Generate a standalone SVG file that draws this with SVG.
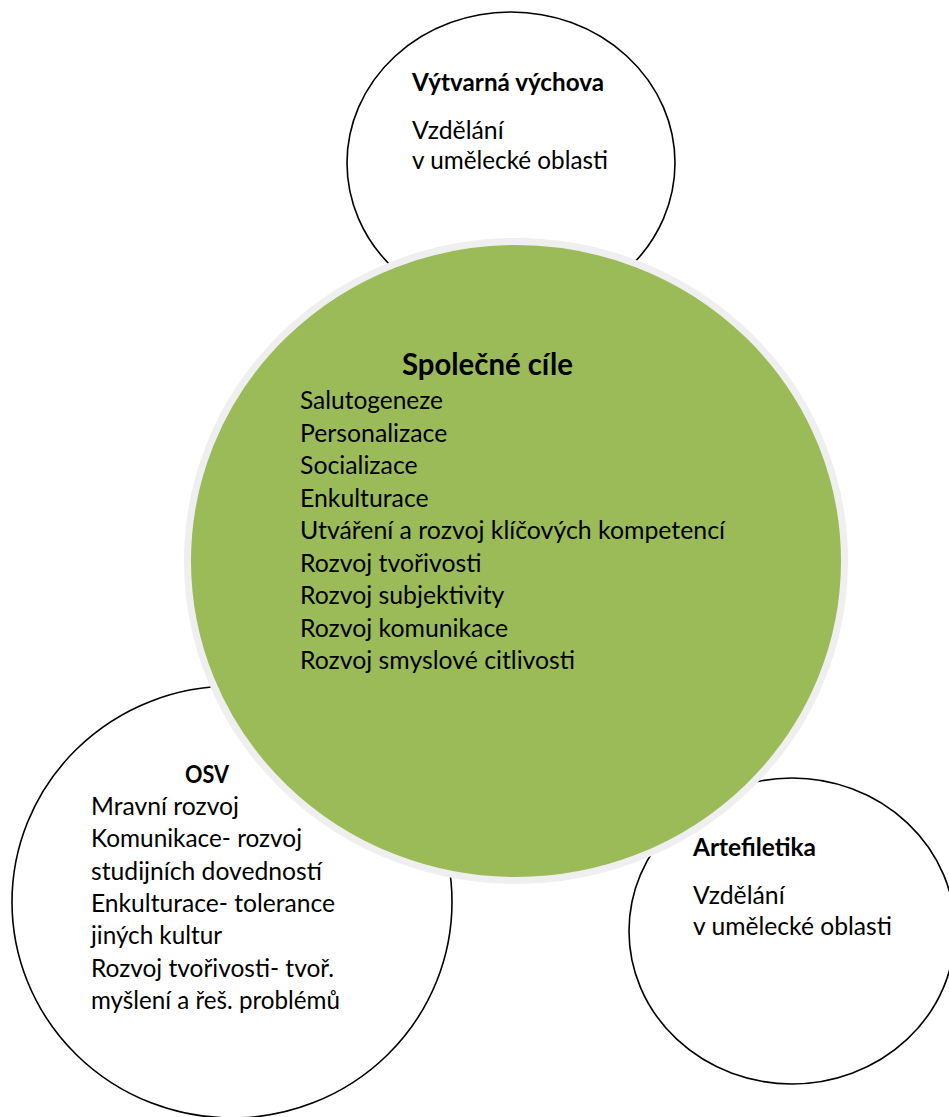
<svg xmlns="http://www.w3.org/2000/svg" width="949" height="1117" viewBox="0 0 949 1117">
<style>
.ring{fill:#FFFFFF;stroke:#000000;stroke-width:1.6}
.core{fill:#9BBB59;stroke:#EFEFEF;stroke-width:7}
text{font-family:Lato,"Open Sans","Liberation Sans",sans-serif;fill:#000000}
.b{font-size:24.8px}
.h{font-size:24px;font-weight:bold}
.t{font-size:29.5px;font-weight:bold}
</style>
<rect width="949" height="1117" fill="#FFFFFF"/>
<g id="connectors"></g>
<g id="node-vv">
<ellipse class="ring" cx="511" cy="163" rx="164" ry="151"/>
<text class="h" x="412" y="91" textLength="192" lengthAdjust="spacingAndGlyphs">Výtvarná výchova</text>
<text class="b" x="412" y="139">Vzdělání</text>
<text class="b" x="412" y="169" textLength="196" lengthAdjust="spacingAndGlyphs">v umělecké oblasti</text>
</g>
<g id="node-osv">
<ellipse class="ring" cx="232" cy="902" rx="220" ry="216"/>
<text class="h" x="185" y="783" textLength="44" lengthAdjust="spacingAndGlyphs">OSV</text>
<text class="b" x="91" y="815" textLength="148" lengthAdjust="spacingAndGlyphs">Mravní rozvoj</text>
<text class="b" x="91" y="847.3" textLength="211" lengthAdjust="spacingAndGlyphs">Komunikace- rozvoj</text>
<text class="b" x="91" y="879.6" textLength="231" lengthAdjust="spacingAndGlyphs">studijních dovedností</text>
<text class="b" x="91" y="911.9" textLength="244" lengthAdjust="spacingAndGlyphs">Enkulturace- tolerance</text>
<text class="b" x="91" y="944.2" textLength="131" lengthAdjust="spacingAndGlyphs">jiných kultur</text>
<text class="b" x="91" y="976.5" textLength="243" lengthAdjust="spacingAndGlyphs">Rozvoj tvořivosti- tvoř.</text>
<text class="b" x="91" y="1008.8" textLength="249" lengthAdjust="spacingAndGlyphs">myšlení a řeš. problémů</text>
</g>
<g id="node-art">
<ellipse class="ring" cx="792" cy="931" rx="163" ry="153"/>
<text class="h" x="693" y="856" textLength="123" lengthAdjust="spacingAndGlyphs">Artefiletika</text>
<text class="b" x="693" y="904">Vzdělání</text>
<text class="b" x="693" y="935" textLength="199" lengthAdjust="spacingAndGlyphs">v umělecké oblasti</text>
</g>
<g id="node-core">
<ellipse class="core" cx="516" cy="561" rx="328.5" ry="319.5"/>
<text class="t" x="402" y="375" textLength="171" lengthAdjust="spacingAndGlyphs">Společné cíle</text>
<text class="b" x="300" y="409" textLength="143" lengthAdjust="spacingAndGlyphs">Salutogeneze</text>
<text class="b" x="300" y="441.5">Personalizace</text>
<text class="b" x="300" y="474">Socializace</text>
<text class="b" x="300" y="506.5">Enkulturace</text>
<text class="b" x="300" y="539" textLength="425" lengthAdjust="spacingAndGlyphs">Utváření a rozvoj klíčových kompetencí</text>
<text class="b" x="300" y="571.5">Rozvoj tvořivosti</text>
<text class="b" x="300" y="604">Rozvoj subjektivity</text>
<text class="b" x="300" y="636.5">Rozvoj komunikace</text>
<text class="b" x="300" y="669">Rozvoj smyslové citlivosti</text>
</g>
</svg>
